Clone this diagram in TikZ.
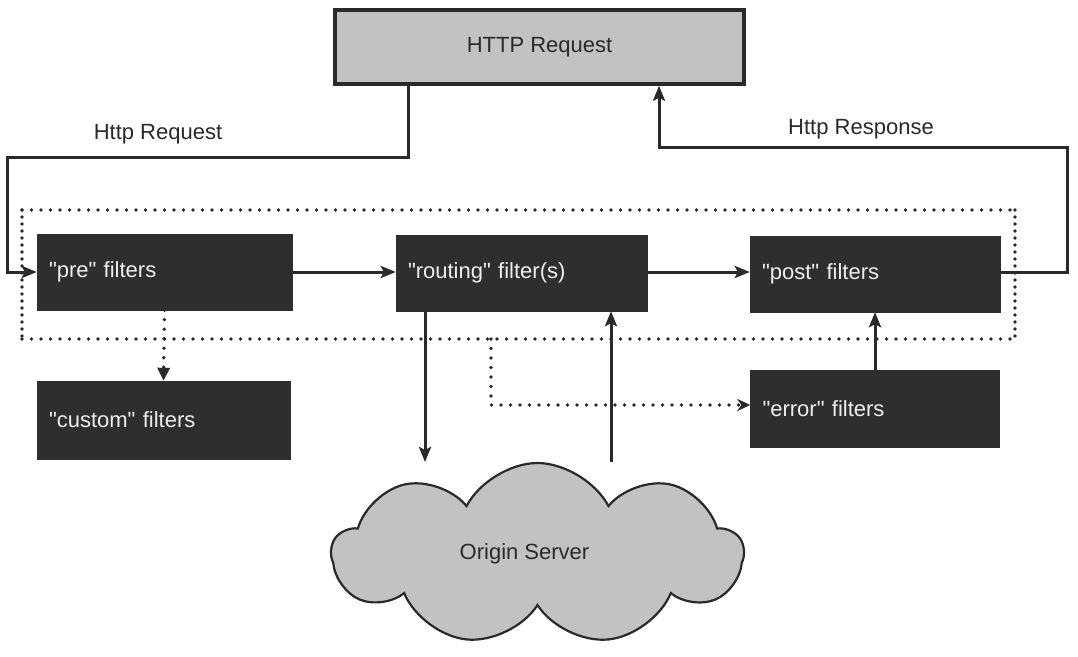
\documentclass[tikz,border=0pt]{standalone}
\usepackage{fontspec}
\setmainfont{Liberation Sans}[Ligatures=TeXOff]
\usetikzlibrary{arrows.meta,shapes.symbols,calc}
\definecolor{boxdark}{HTML}{2E2E2E}
\definecolor{lightfill}{HTML}{C2C2C2}
\definecolor{inkc}{HTML}{2A2A2A}
\definecolor{boxtext}{HTML}{EEEEEE}
\begin{document}
\begin{tikzpicture}[x=1pt,y=-1pt,
  font=\fontsize{22pt}{26pt}\selectfont,
  filterbox/.style={draw=boxdark, fill=boxdark, text=boxtext, minimum height=76pt,
    inner xsep=12pt, inner ysep=0pt, align=left},
  httpbox/.style={draw=inkc, fill=lightfill, line width=3.5pt, minimum width=409pt,
    minimum height=74pt, inner sep=0pt, text=inkc},
  conn/.style={draw=inkc, line width=3pt, -{Stealth[length=15pt,width=12pt,inset=3pt]}},
  dots/.style={draw=inkc, line width=3.8pt, line cap=round, dash pattern=on 0pt off 9.5pt},
  vdots/.style={draw=inkc, line width=3.8pt, line cap=round, dash pattern=on 0pt off 7pt},
  lbl/.style={text=inkc, inner sep=0pt}
]
\useasboundingbox (0,0) rectangle (1078,656);
\fill[white] (0,0) rectangle (1078,656);

% dotted frame around the filter chain
\coordinate (ftl) at (22,210);
\coordinate (ftr) at (1015,210);
\coordinate (fbl) at (22,339);
\coordinate (fbr) at (1015,339);
\draw[dots] (ftl) -- (ftr);
\draw[dots] (fbl) -- (fbr);
\draw[vdots] (ftl) -- (fbl);
\draw[vdots] (ftr) -- (fbr);

% nodes
\node[httpbox] (http) at (539.5,47) {HTTP Request};
\node[filterbox, text width=231pt] (pre) at (164.5,272) {"pre" filters};
\node[filterbox, text width=227pt] (routing) at (521.5,273) {"routing" filter(s)};
\node[filterbox, text width=226pt] (post) at (875,274) {"post" filters};
\node[filterbox, text width=229pt, minimum height=78pt] (custom) at (163.5,420) {"custom" filters};
\node[filterbox, text width=225pt, minimum height=77pt] (error) at (875,408.5) {"error" filters};
\node[cloud, cloud puffs=9, cloud puff arc=125, cloud ignores aspect, draw=inkc,
  line width=2.2pt, fill=lightfill, minimum width=411pt, minimum height=182pt,
  inner sep=0pt, text=inkc] (origin) at (537.5,554) {Origin Server\hspace*{26pt}};

\node[lbl] (lblreq) at (158,134) {Http Request};
\node[lbl] (lblresp) at (861,129) {Http Response};

% request path
\coordinate (rq1) at (408,157);
\coordinate (rq2) at (7,157);
\draw[conn] (http.south -| rq1) -- (rq1) -- (rq2) |- (pre.west);

% filter chain
\draw[conn] (pre.east) -- (routing.west |- pre.east);
\draw[conn] (routing.east |- pre.east) -- (post.west |- pre.east);

% response path
\coordinate (rs1) at (1067,147);
\coordinate (rs2) at (659,147);
\draw[conn] (post.east |- pre.east) -| (rs1) -- (rs2) -- (http.south -| rs2);

% routing <-> origin
\coordinate (dn) at (425,462);
\coordinate (up) at (611,462);
\draw[conn] (routing.south -| dn) -- (dn);
\draw[conn] (up) -- (routing.south -| up);

% error -> post
\draw[conn] (error.north) -- (post.south);

% pre -> custom (dotted)
\draw[dots, -{Triangle[length=13pt,width=12pt]}] (pre.south) -- (custom.north);

% frame -> error (dotted)
\coordinate (eb1) at (491,339);
\coordinate (eb2) at (491,405);
\draw[dots, -{Stealth[length=13pt,width=12pt,inset=4pt]}] (eb1) -- (eb2) -- (error.west |- eb2);
\end{tikzpicture}
\end{document}
